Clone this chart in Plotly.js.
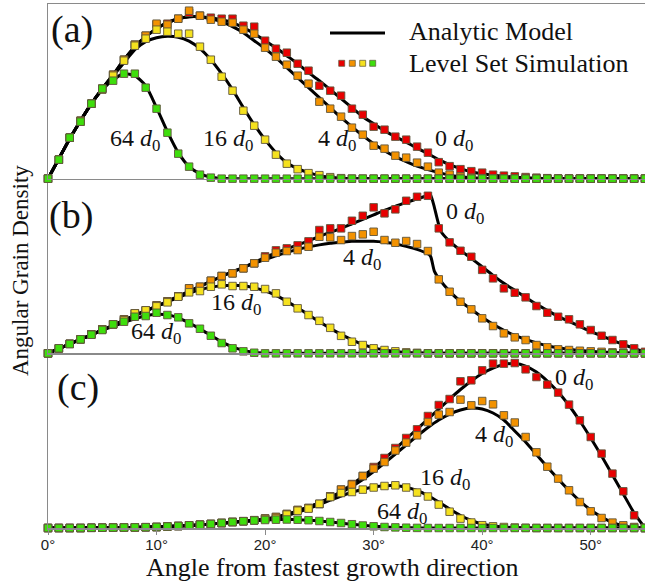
<!DOCTYPE html>
<html><head><meta charset="utf-8">
<script src="https://cdn.plot.ly/plotly-3.0.1.min.js"></script>
<style>html,body{margin:0;padding:0;background:#fff}#chart{width:645px;height:585px}</style>
</head><body><div id="chart"></div>
<script>
// ---------------- DATA ----------------
const angles = [0,1,2,3,4,5,6,7,8,9,10,11,12,13,14,15,16,17,18,19,20,21,22,23,24,25,26,27,28,29,30,31,32,33,34,35,36,37,38,39,40,41,42,43,44,45,46,47,48,49,50,51,52,53,54,55];
const seriesNames = ["0 d0","4 d0","16 d0","64 d0"];
const tickVals = [0,10,20,30,40,50];
const tickText = ["0°","10°","20°","30°","40°","50°"];

// Panel (a) – simulation markers
const a_sim0  = [0,19,41,58,75,90,104,119,134,143,154,155,160,166,163,161,160,160,153,152,138,130,126,115,108,93,88,83,70,64,52,49,42,39,32,26,16.5,12.5,9.5,7.5,6,4,3,2.3,1.6,1,0.5,0,0,0,0,0,0,0,0,0];
const a_sim4  = [0,19,41,58,75,90,104,119,134,143,155,154,160,168,163,159,157,156,149,145,131,122,114,103,95,77,70,62,51,44,33,30,23,21,16,12,6,4,2,1,0.5,0,0,0,0,0,0,0,0,0,0,0,0,0,0,0];
const a_sim16 = [0,19,41,57,75,89,103,118,133,140,149,147,145,145,132,119,102,88,68,53,39,24,15,9.5,5.5,3.5,1.5,0.5,0,0,0,0,0,0,0,0,0,0,0,0,0,0,0,0,0,0,0,0,0,0,0,0,0,0,0,0];
const a_sim64 = [0,19,41,57,75,90,98,105,105,91,70,46,25,12,4,1,0,0,0,0,0,0,0,0,0,0,0,0,0,0,0,0,0,0,0,0,0,0,0,0,0,0,0,0,0,0,0,0,0,0,0,0,0,0,0,0];
// Panel (a) – analytic model
const a_mod0  = [0,20,40,58,75,90,104,119,132,142,150,156,160,162,162,161,159,156,151,145,138,131,123,115,106,98,89,80,71,62,55,48,42,36.5,30.5,25,19,14,10,7,5,3.5,2.5,1.5,1,0.5,0,0,0,0,0,0,0,0,0,0];
const a_mod4  = [0,20,40,58,75,90,104,119,132,142,150,156,160,162,162,160,157,152,146,138,130,121,111,101,91,81,71,61,52,43,35,28,22,17,12.5,9,6,3.5,2,1,0.4,0,0,0,0,0,0,0,0,0,0,0,0,0,0,0];
const a_mod16 = [0,20,40,58,75,90,103,116,129,137,141,142.5,141.5,137.5,130,119,105,89,71,54,39,26,16,10,6,3,1.5,0.5,0,0,0,0,0,0,0,0,0,0,0,0,0,0,0,0,0,0,0,0,0,0,0,0,0,0,0,0];
const a_mod64 = [0,20,40,58,75,89,99,105,103,93,71,47,26,12,5,1.5,0.3,0,0,0,0,0,0,0,0,0,0,0,0,0,0,0,0,0,0,0,0,0,0,0,0,0,0,0,0,0,0,0,0,0,0,0,0,0];

// Panel (b) – simulation markers
const b_sim0  = [0,5,9.5,14,19,24,29,34,40,43,48,52,57,65,66.6,72.6,77.3,80,85,90,97,103,105,108,112,123.3,125,125,132.6,137.6,146,140,144,152.6,156.6,157.6,125,111,102.6,96.6,83.5,75,65,60.6,56,47.3,40.6,36.6,34,29,23.3,17.6,13.3,9,5,1.5];
const b_sim4  = [0,5,9.5,14,19,24,29,34,40,43,48,52,57,65,66.6,72.6,77.3,80,85,90,95.6,100.6,102.3,103.3,106.6,116.6,116,113.3,117.3,119,121.6,113.3,110.6,112.3,109.3,102.3,74,61.6,51.6,44,35,27.3,20,16,13.3,8.3,6,4,3.3,2.6,2,1.5,1,0.6,0.3,0];
const b_sim16 = [0,5,9.5,14,19,24,29,33,40,43,47,51,56.6,61,62.3,66.6,69,67.3,67.3,66.6,64.3,60,51.6,45,38.3,32.5,25.5,17.5,11.6,8.3,5,3.3,2,1,0.5,0,0,0,0,0,0,0,0,0,0,0,0,0,0,0,0,0,0,0,0,0];
const b_sim64 = [0,5,9.3,14,18.6,23.3,29,31.6,36.6,37.3,40.6,38.3,36,30,24.6,17.6,10.3,5,2,0.6,0,0,0,0,0,0,0,0,0,0,0,0,0,0,0,0,0,0,0,0,0,0,0,0,0,0,0,0,0,0,0,0,0,0,0,0];
// Panel (b) – analytic model (0 d0 and 4 d0 have a cusp near 35°)
const b_ang0  = [0,1,2,3,4,5,6,7,8,9,10,11,12,13,14,15,16,17,18,19,20,21,22,23,24,25,26,27,28,29,30,31,32,33,34,35,35.2,35.5,35.8,36.2,37,38,39,40,41,42,43,44,45,46,47,48,49,50,51,52,53,54,55];
const b_mod0  = [0,4.7,9.3,14,18.6,23.2,28,33,38,42.5,47,52,57,62,67,72,77,81.5,86,91,96,100.5,104.5,108.5,112.5,117,121,125,129.5,134,138.5,143,147,151,154.5,158,159.5,150,137,122,112,103,95,86.5,78,70,63,56,49,43,37,32,27,22,17.5,13,9,5,1.5];
const b_ang4  = [0,1,2,3,4,5,6,7,8,9,10,11,12,13,14,15,16,17,18,19,20,21,22,23,24,25,26,27,28,29,30,31,32,33,34,35,35.25,35.6,36,37,38,39,40,41,42,43,44,45,46,47,48,49,50,51,52,53,54,55];
const b_mod4  = [0,4.7,9.3,14,18.6,23.2,28,33,38,42.5,47,52,57,62,67,72,77,81.5,86,90,94,97.5,101,104,106.5,108.5,110,111,112,112,112,111,109.5,107,104,99.5,97,82,75,62,52,44,36,29,23,18,14,10.5,7.5,5.5,4,2.8,2,1.3,0.8,0.5,0.3,0.1];
const b_mod16 = [0,4.7,9.3,14,18.6,23.2,28,33,38,42.5,47,51.5,56,60,63.5,66,67.5,68,67.5,65.5,62.5,58,52,45.5,38.5,31.5,25,19,13.5,9,5.5,3.3,1.8,0.9,0.4,0.1,0,0,0,0,0,0,0,0,0,0,0,0,0,0,0,0,0,0,0,0];
const b_mod64 = [0,4.7,9.3,14,18.6,23,27,31,34.5,37.5,39,38.5,35.5,30.5,24.5,18,11.5,6.5,3,1.2,0.4,0,0,0,0,0,0,0,0,0,0,0,0,0,0,0,0,0,0,0,0,0,0,0,0,0,0,0,0,0,0,0,0,0,0,0];

// Panel (c) – simulation markers
const c_sim0  = [0,0,0,0,0.2,0.3,0.4,0.5,0.6,0.8,1,1.5,2,2.7,3.3,4,5,6,6.8,7.8,9.5,11,14,18,20,24,31.7,38.4,44,52,61,70,80,90,98.7,112,123,129,146.7,147.7,157.7,164.4,164.4,165,158.7,151,143.4,135.4,123.4,107.7,91,74.4,54.4,36.7,12.7,0];
const c_sim4  = [0,0,0,0,0.2,0.3,0.4,0.5,0.6,0.8,1,1.5,2,2.7,3.3,4,5,6,6.8,7.8,9.5,11,14,18,20,24,31.7,38.4,43.4,52,59.4,66,77.5,85.4,92.7,106,113.4,116,128.4,122.7,127,123.7,112.7,105.5,91,75.7,61.3,49.4,37.7,26,16.7,10,5.4,2.7,1,0];
const c_sim16 = [0,0,0,0,0.2,0.3,0.4,0.5,0.6,0.8,1,1.5,2,2.7,3.3,4,5,6,6.8,7.8,9,9.5,13.4,17.3,19.4,24.2,31,35,36,38.4,40.5,42,42.7,40.5,35.5,31.5,23.4,16.3,9.4,5.5,2.8,1.7,1,0.5,0.2,0,0,0,0,0,0,0,0,0,0,0];
const c_sim64 = [0,0,0,0,0.2,0.3,0.4,0.5,0.6,0.8,1,1.5,2,2.7,3.3,4,5,6,6.8,7.5,8,8.3,8.5,8.3,7.8,7,6,5,3.8,2.5,1.7,1,0.6,0.3,0.1,0,0,0,0,0,0,0,0,0,0,0,0,0,0,0,0,0,0,0,0,0];
// Panel (c) – analytic model
const c_mod0  = [0,0.05,0.1,0.15,0.2,0.3,0.4,0.5,0.6,0.8,1,1.4,1.9,2.5,3.2,4,4.9,5.8,6.7,7.6,8.8,10.8,13.6,17,21,25.5,30.5,36.5,43.5,51.5,60,69.5,79,89,99,109,119,129,138.5,147,154.5,160,163.5,164.5,162,156,147,136,122.5,107,90,72,53,34,15,0];
const c_mod4  = [0,0.05,0.1,0.15,0.2,0.3,0.4,0.5,0.6,0.8,1,1.4,1.9,2.5,3.2,4,4.9,5.8,6.7,7.6,8.8,10.8,13.6,17,21,25,30,35.5,41.5,48.5,56.5,65,74,83,92,100.5,108,114,118,120,119,115,108,97,86,73.5,61,49,37.5,27,18,11,5.5,2.3,0.6,0];
const c_mod16 = [0,0.05,0.1,0.15,0.2,0.3,0.4,0.5,0.6,0.8,1,1.4,1.9,2.5,3.2,4,4.9,5.8,6.7,7.5,8.6,10.3,12.7,15.8,19.5,23.5,27.8,32,35.8,38.8,41,42.2,42.3,40.8,37.5,32.5,26,19,12.5,7.5,4,2,0.9,0.4,0.15,0,0,0,0,0,0,0,0,0,0,0];
const c_mod64 = [0,0.05,0.1,0.15,0.2,0.3,0.4,0.5,0.6,0.8,1,1.4,1.9,2.5,3.2,4,4.9,5.8,6.7,7.4,8,8.4,8.5,8.3,7.8,7,6,4.9,3.8,2.7,1.8,1.1,0.6,0.3,0.1,0,0,0,0,0,0,0,0,0,0,0,0,0,0,0,0,0,0,0,0,0];

// Legend / label texts
const legendLine = "Analytic Model";
const legendMarkers = "Level Set Simulation";
const panelLabels = ["(a)","(b)","(c)"];
const xTitle = "Angle from fastest growth direction";
const yTitle = "Angular Grain Density";

// ---------------- STYLE ----------------
const colors = ["#e80000","#f39200","#f5e11e","#3ede0c"]; // 0,4,16,64 d0
const edge = "rgba(95,85,60,0.9)";
const serif = "'Liberation Serif', 'Times New Roman', serif";
const sans = "'Liberation Sans', Arial, sans-serif";
const frame = "#8a8a8a";

const PL = 48, PT = 4, PW = 597, PH = 524;
const px = x => (x - PL) / PW;
const py = y => (PT + PH - y) / PH;

const traces = [];
function addPanel(yax, models, modelX, sims){
  const xa = yax==='y'?'x3':(yax==='y2'?'x2':'x');
  models.forEach((m,i)=>{
    traces.push({x: modelX[i], y: m, xaxis: xa, yaxis: yax,
      mode:'lines', line:{color:'#000', width:3, shape:'spline', smoothing:0.6},
      hoverinfo:'skip', showlegend:false, cliponaxis:false});
  });
  sims.forEach((s,i)=>{
    traces.push({x: angles, y: s, xaxis: xa, yaxis: yax,
      mode:'markers', marker:{symbol:'square', size:7.5, color:colors[i], line:{color:edge, width:1}},
      name: seriesNames[i], showlegend:false, cliponaxis:false});
  });
}
addPanel('y',  [a_mod0,a_mod4,a_mod16,a_mod64], [angles,angles,angles,angles], [a_sim0,a_sim4,a_sim16,a_sim64]);
addPanel('y2', [b_mod0,b_mod4,b_mod16,b_mod64], [b_ang0,b_ang4,angles,angles], [b_sim0,b_sim4,b_sim16,b_sim64]);
addPanel('y3', [c_mod0,c_mod4,c_mod16,c_mod64], [angles,angles,angles,angles], [c_sim0,c_sim4,c_sim16,c_sim64]);

const yBase = {range:[0,174.7], showline:true, linecolor:frame, linewidth:1.5, ticks:'', showticklabels:false, showgrid:false, zeroline:false, fixedrange:true};
const xBase = {range:[0,55], showgrid:false, zeroline:false, showline:true, linecolor:frame, linewidth:1.5};

const ann = [];
const dl = n => n + " <i>d</i><sub>0</sub>";
function lab(text, x, y, size){ ann.push({text, x:px(x), y:py(y), xref:'paper', yref:'paper', showarrow:false, xanchor:'center', yanchor:'middle', font:{family:serif, size:size||24, color:'#111'}}); }
// panel letters
lab(panelLabels[0], 72, 29, 38);
lab(panelLabels[1], 71, 215, 38);
lab(panelLabels[2], 78, 387, 38);
// curve labels
lab(dl(64), 135, 140); lab(dl(16), 228, 140); lab(dl(4), 337, 140); lab(dl(0), 454, 140);
lab(dl(0), 465, 213); lab(dl(4), 362, 259); lab(dl(16), 236, 304); lab(dl(64), 156, 333);
lab(dl(0), 574, 379); lab(dl(4), 494, 436); lab(dl(16), 445, 479); lab(dl(64), 402, 513);
// legend texts
ann.push({text:legendLine, x:px(407), y:py(32), xref:'paper', yref:'paper', showarrow:false, xanchor:'left', yanchor:'middle', font:{family:serif, size:26, color:'#111'}});
ann.push({text:legendMarkers, x:px(407), y:py(63), xref:'paper', yref:'paper', showarrow:false, xanchor:'left', yanchor:'middle', font:{family:serif, size:26, color:'#111'}});
// axis titles
ann.push({text:xTitle, x:px(332), y:py(567), xref:'paper', yref:'paper', showarrow:false, xanchor:'center', yanchor:'middle', font:{family:serif, size:26, color:'#111'}});
ann.push({text:yTitle, x:px(20), y:py(271), xref:'paper', yref:'paper', showarrow:false, xanchor:'center', yanchor:'middle', textangle:-90, font:{family:serif, size:23, color:'#111'}});

const shapes = [];
shapes.push({type:'line', xref:'paper', yref:'paper', x0:px(330), x1:px(385), y0:py(33), y1:py(33), line:{color:'#000', width:3}});
[341.7,352.3,362.7,372.7].forEach((cx,i)=>{
  shapes.push({type:'rect', xref:'paper', yref:'paper', x0:px(cx-3), x1:px(cx+3), y0:py(63.3+3), y1:py(63.3-3), fillcolor:colors[i], line:{color:edge, width:0.8}});
});

const layout = {
  width:645, height:585,
  margin:{l:PL, r:645-PL-PW, t:PT, b:585-PT-PH, pad:0},
  paper_bgcolor:'#fff', plot_bgcolor:'rgba(0,0,0,0)',
  showlegend:false,
  xaxis: Object.assign({}, xBase, {anchor:'y3', ticks:'outside', ticklen:5, tickcolor:frame, tickwidth:1, tickvals:tickVals, ticktext:tickText, ticklabelstandoff:-3, tickfont:{family:sans, size:15, color:'#222'}}),
  xaxis2: Object.assign({}, xBase, {anchor:'y2', matches:'x', showticklabels:false, ticks:''}),
  xaxis3: Object.assign({}, xBase, {anchor:'y', matches:'x', showticklabels:false, ticks:'', mirror:true}),
  yaxis: Object.assign({}, yBase, {domain:[2/3,1]}),
  yaxis2: Object.assign({}, yBase, {domain:[1/3,2/3]}),
  yaxis3: Object.assign({}, yBase, {domain:[0,1/3]}),
  annotations: ann, shapes: shapes
};
Plotly.newPlot('chart', traces, layout, {staticPlot:true, displayModeBar:false});
</script></body></html>
